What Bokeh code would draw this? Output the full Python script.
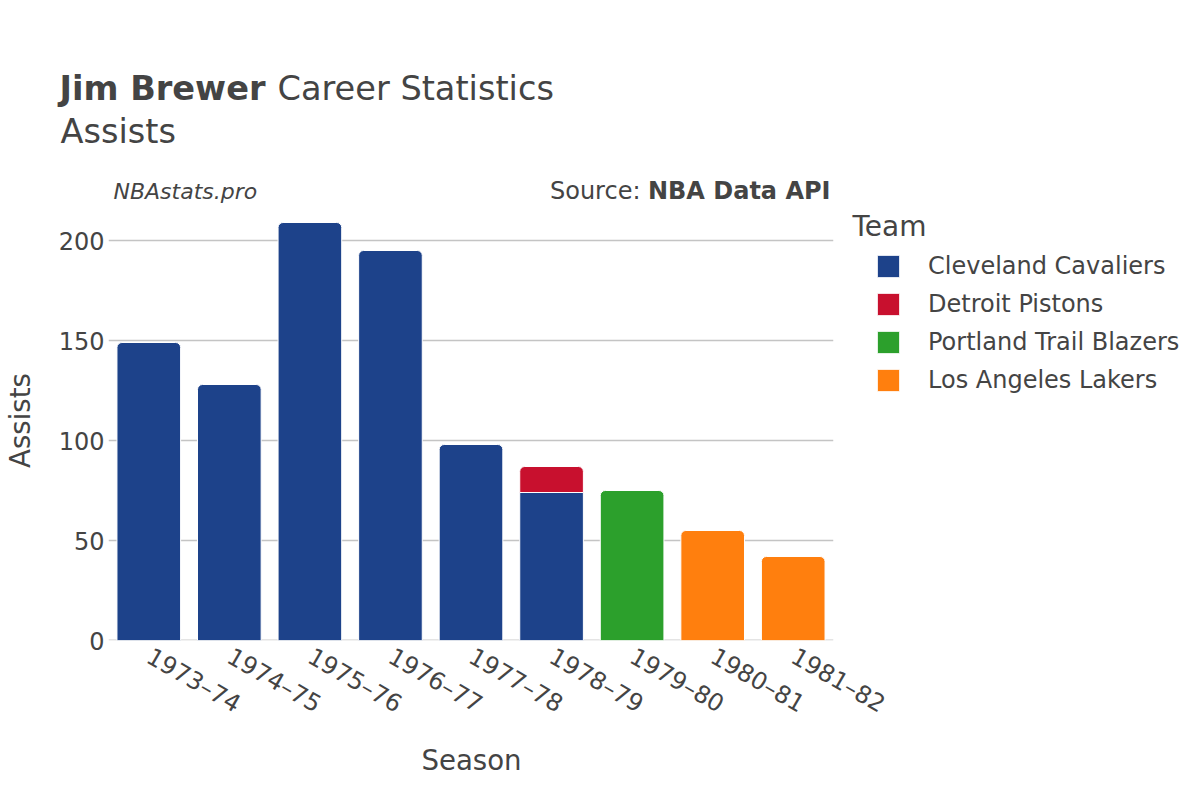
import math
from bokeh.plotting import figure
from bokeh.models import (Range1d, Label, Legend, LegendItem, Span, FixedTicker,
                          ColumnDataSource)
from bokeh.embed import file_html
from bokeh.resources import INLINE

# ---- data ----
seasons = ["1973–74", "1974–75", "1975–76", "1976–77", "1977–78",
           "1978–79", "1979–80", "1980–81", "1981–82"]
teams = ["Cleveland Cavaliers", "Detroit Pistons",
         "Portland Trail Blazers", "Los Angeles Lakers"]
team_colors = ["#1d428a", "#c8102e", "#2ca02c", "#ff7f0e"]
cle_assists = [149, 128, 209, 195, 98, 74, 0, 0, 0]
det_assists = [0, 0, 0, 0, 0, 13, 0, 0, 0]
por_assists = [0, 0, 0, 0, 0, 0, 75, 0, 0]
lal_assists = [0, 0, 0, 0, 0, 0, 0, 55, 42]
y_ticks = [0, 50, 100, 150, 200]

TXT = "#444444"
FONT = "DejaVu Sans"

FL, FT, FW, FH = 108, 200, 725, 440      # frame placement on the page
YMAX = 220

p = figure(x_range=seasons, y_range=Range1d(0, YMAX),
           frame_width=FW, frame_height=FH,
           min_border_left=FL, min_border_right=1200 - FL - FW,
           min_border_top=FT, min_border_bottom=800 - FT - FH,
           output_backend="svg", toolbar_location=None)
p.outline_line_color = None
p.background_fill_color = "white"
p.border_fill_color = "white"

# axes
p.xgrid.grid_line_color = None
p.ygrid.ticker = FixedTicker(ticks=y_ticks[1:])
p.ygrid.grid_line_color = "#c4c4c4"
p.ygrid.grid_line_width = 1.5
p.yaxis.ticker = FixedTicker(ticks=y_ticks)
for ax in (p.xaxis[0], p.yaxis[0]):
    ax.axis_line_color = None
    ax.major_tick_line_color = None
    ax.minor_tick_line_color = None
    ax.major_tick_out = 0
    ax.major_tick_in = 0
    ax.minor_tick_out = 0
    ax.major_label_text_font = FONT
    ax.major_label_text_color = TXT
    ax.major_label_text_font_size = "24px"
    ax.axis_label_text_font = FONT
    ax.axis_label_text_color = TXT
    ax.axis_label_text_font_size = "27.6px"
    ax.axis_label_text_font_style = "normal"
p.yaxis.major_label_standoff = 4
p.xaxis.major_label_standoff = 14
p.xaxis.major_label_orientation = -math.pi / 6
p.yaxis.axis_label = "Assists"
p.yaxis.axis_label_standoff = 19

p.add_layout(Span(location=0, dimension="width", line_color="#e4e4e4",
                  line_width=3, level="underlay"))

# bars (stacked, top segment rounded)
series = [cle_assists, det_assists, por_assists, lal_assists]
base = [0] * len(seasons)
items = []
for t, (name, vals, col) in enumerate(zip(teams, series, team_colors)):
    rounded = dict(x=[], bottom=[], top=[])
    flat = dict(x=[], bottom=[], top=[])
    for j, v in enumerate(vals):
        if v <= 0:
            continue
        is_top = all(series[k][j] == 0 for k in range(t + 1, len(series)))
        d = rounded if is_top else flat
        d["x"].append(seasons[j])
        d["bottom"].append(base[j])
        d["top"].append(base[j] + v)
        base[j] += v
    r1 = p.vbar(x="x", bottom="bottom", top="top", width=0.79,
                source=ColumnDataSource(rounded), fill_color=col,
                line_color="white", line_width=1, border_radius=(5, 5, 0, 0))
    if flat["x"]:
        p.vbar(x="x", bottom="bottom", top="top", width=0.79,
               source=ColumnDataSource(flat), fill_color=col,
               line_color="white", line_width=1)
    items.append(LegendItem(label=name, renderers=[r1]))

legend = Legend(items=items, location=(41, 246), orientation="vertical",
                glyph_width=28, glyph_height=28, label_height=22,
                spacing=10, label_standoff=26, padding=0, margin=0,
                border_line_color=None, background_fill_alpha=0,
                label_text_font=FONT, label_text_font_size="24px",
                label_text_color=TXT)
p.add_layout(legend, "right")

CAT = FW / len(seasons)


def sx(px):   # page x -> categorical synthetic coordinate
    return (px - FL) / CAT


def sy(py):   # page y -> data value
    return (FT + FH - py) * YMAX / FH


def lab(text, px, base_py, size, side, style="normal", align="left"):
    fs = float(size.replace("px", ""))
    py = base_py - 0.36 * fs          # visual baseline correction
    p.add_layout(Label(text=text, x=sx(px), y=sy(py),
                       text_font=FONT, text_font_size=size,
                       text_font_style=style, text_color=TXT,
                       text_align=align, text_baseline="alphabetic"), side)


lab("Jim Brewer", 59, 100, "33.6px", "above", "bold")
lab("Career Statistics", 277, 100, "33.6px", "above")
lab("Assists", 60, 143, "33.6px", "above")
lab("NBAstats.pro", 113, 199, "22px", "above", "italic")
lab("NBA Data API", 830, 199, "24px", "above", "bold", align="right")
lab("Source:", 640, 199, "24px", "above", align="right")
lab("Season", 471, 770, "27.6px", "below", align="center")
lab("Team", 852, 236, "28px", "below")

open("out.html", "w").write(file_html(p, INLINE))
